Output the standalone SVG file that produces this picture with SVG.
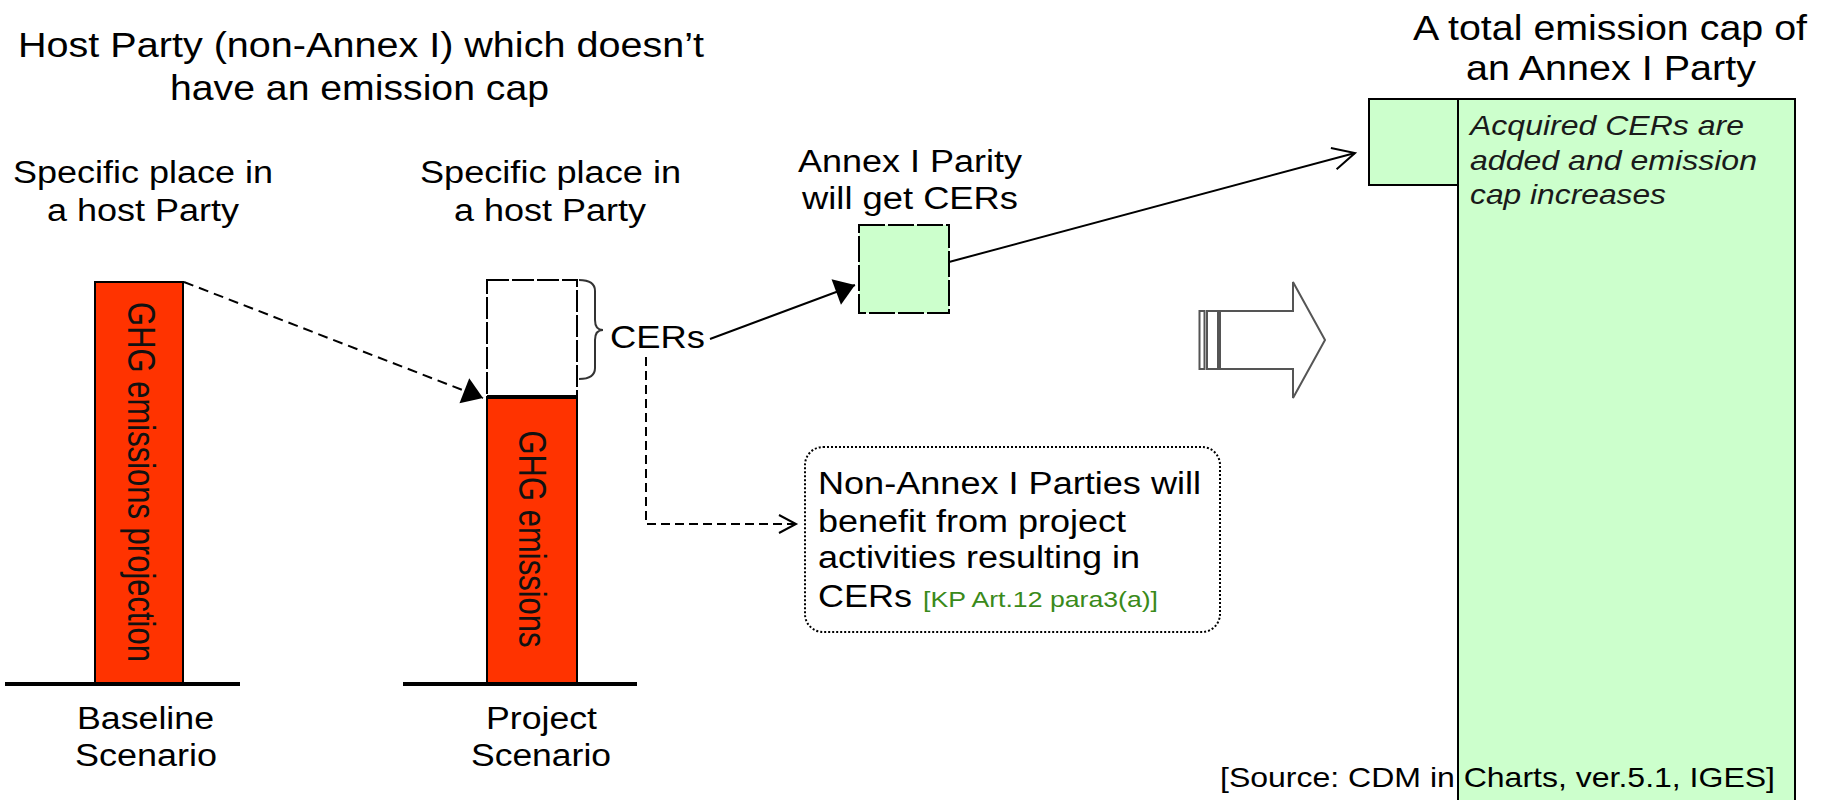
<svg xmlns="http://www.w3.org/2000/svg" width="1833" height="800" viewBox="0 0 1833 800">
<style>
text{font-family:"Liberation Sans",Arial,sans-serif;fill:#000}
.t34{font-size:35px}
.t30{font-size:31px}
.t28{font-size:28px}
.it{font-size:28px;font-style:italic;fill:#1a1a1a}
.grn{font-size:22px;fill:#3a8a1a}
.red{fill:#FF3300;stroke:#000;stroke-width:2}
.gbox{fill:#CCFFCC;stroke:#000;stroke-width:2}
.ground{stroke:#000;stroke-width:4}
.conn{fill:none;stroke:#000;stroke-width:2}
</style>
<defs>
<marker id="tri" markerUnits="userSpaceOnUse" markerWidth="26" markerHeight="32" viewBox="-23 -16 26 32" refX="0" refY="0" orient="auto">
<path d="M0,0 L-20,-13.5 L-20,13.5 Z" fill="#000"/>
</marker>
<marker id="open" markerUnits="userSpaceOnUse" markerWidth="30" markerHeight="30" viewBox="-26 -15 30 30" refX="0" refY="0" orient="auto">
<path d="M-22,-11 L0,0 L-22,11" fill="none" stroke="#000" stroke-width="2"/>
</marker>
<marker id="open2" markerUnits="userSpaceOnUse" markerWidth="24" markerHeight="24" viewBox="-21 -12 24 24" refX="0" refY="0" orient="auto">
<path d="M-17,-9 L0,0 L-17,9" fill="none" stroke="#000" stroke-width="2"/>
</marker>
</defs>

<g id="title-host">
<text class="t34" x="18" y="57" textLength="686" lengthAdjust="spacingAndGlyphs">Host Party (non-Annex I) which doesn’t</text>
<text class="t34" x="170" y="100" textLength="379" lengthAdjust="spacingAndGlyphs">have an emission cap</text>
</g>

<g id="title-annex">
<text class="t34" x="1413" y="40" textLength="394" lengthAdjust="spacingAndGlyphs">A total emission cap of</text>
<text class="t34" x="1466" y="80" textLength="290" lengthAdjust="spacingAndGlyphs">an Annex I Party</text>
</g>

<g id="baseline-scenario">
<text class="t30" x="13" y="183" textLength="260" lengthAdjust="spacingAndGlyphs">Specific place in</text>
<text class="t30" x="47" y="221" textLength="192" lengthAdjust="spacingAndGlyphs">a host Party</text>
<rect class="red" x="95" y="282" width="88" height="401"/>
<g transform="translate(142,482) scale(1.25,1) rotate(90)"><text x="0" y="11" style="font-size:31px;fill:#111" text-anchor="middle">GHG emissions projection</text></g>
<line class="ground" x1="5" y1="684" x2="240" y2="684"/>
<text class="t30" x="77" y="729" textLength="137" lengthAdjust="spacingAndGlyphs">Baseline</text>
<text class="t30" x="75" y="766" textLength="142" lengthAdjust="spacingAndGlyphs">Scenario</text>
</g>

<g id="project-scenario">
<text class="t30" x="420" y="183" textLength="261" lengthAdjust="spacingAndGlyphs">Specific place in</text>
<text class="t30" x="454" y="221" textLength="192" lengthAdjust="spacingAndGlyphs">a host Party</text>
<rect x="487" y="280" width="90" height="117" fill="#fff" stroke="#000" stroke-width="2" stroke-dasharray="22 3"/>
<rect class="red" x="487" y="397" width="90" height="286"/>
<line x1="487" y1="397" x2="577" y2="397" stroke="#000" stroke-width="4"/>
<g transform="translate(533,539) scale(1.25,1) rotate(90)"><text x="0" y="11" style="font-size:31px;fill:#111" text-anchor="middle">GHG emissions</text></g>
<line class="ground" x1="403" y1="684" x2="637" y2="684"/>
<text class="t30" x="486" y="729" textLength="111" lengthAdjust="spacingAndGlyphs">Project</text>
<text class="t30" x="471" y="766" textLength="140" lengthAdjust="spacingAndGlyphs">Scenario</text>
</g>

<g id="cers-brace">
<path d="M579,280 Q595,280 595,291 L595,320 Q595,330 603,330 Q595,330 595,340 L595,368 Q595,379 579,379" fill="none" stroke="#333" stroke-width="2"/>
<text style="font-size:32px" x="610" y="348" textLength="95" lengthAdjust="spacingAndGlyphs">CERs</text>
</g>

<g id="annex-parity">
<text class="t30" x="798" y="172" textLength="224" lengthAdjust="spacingAndGlyphs">Annex I Parity</text>
<text class="t30" x="802" y="209" textLength="216" lengthAdjust="spacingAndGlyphs">will get CERs</text>
<rect x="859" y="225" width="90" height="88" fill="#CCFFCC" stroke="#000" stroke-width="2" stroke-dasharray="26 3"/>
</g>

<g id="benefit-note">
<rect x="805" y="447" width="415" height="185" rx="18" ry="18" fill="#fff" stroke="#000" stroke-width="2" stroke-dasharray="2 2"/>
<text class="t30" x="818" y="494" textLength="383" lengthAdjust="spacingAndGlyphs">Non-Annex I Parties will</text>
<text class="t30" x="818" y="532" textLength="308" lengthAdjust="spacingAndGlyphs">benefit from project</text>
<text class="t30" x="818" y="568" textLength="322" lengthAdjust="spacingAndGlyphs">activities resulting in</text>
<text class="t30" x="818" y="607" textLength="94" lengthAdjust="spacingAndGlyphs">CERs</text>
<text class="grn" x="923" y="607" textLength="235" lengthAdjust="spacingAndGlyphs">[KP Art.12 para3(a)]</text>
</g>

<g id="block-arrow" fill="#fff" stroke="#555" stroke-width="2">
<rect x="1199.5" y="311" width="5" height="58"/>
<rect x="1207" y="311" width="11" height="58"/>
<polygon points="1220,311 1293,311 1293,282 1325,340 1293,398 1293,369 1220,369"/>
</g>

<g id="emission-cap">
<rect class="gbox" x="1369" y="99" width="89" height="86"/>
<rect class="gbox" x="1458" y="99" width="337" height="720"/>
<text class="it" x="1470" y="135" textLength="274" lengthAdjust="spacingAndGlyphs">Acquired CERs are</text>
<text class="it" x="1470" y="170" textLength="287" lengthAdjust="spacingAndGlyphs">added and emission</text>
<text class="it" x="1470" y="204" textLength="196" lengthAdjust="spacingAndGlyphs">cap increases</text>
</g>

<g id="connectors">
<line class="conn" x1="184" y1="282" x2="483" y2="398" stroke-dasharray="10 6" marker-end="url(#tri)"/>
<line class="conn" x1="710" y1="339" x2="855" y2="285" marker-end="url(#tri)"/>
<line class="conn" x1="949" y1="262" x2="1355" y2="153" marker-end="url(#open)"/>
<polyline class="conn" points="646,357 646,524 796,524" stroke-dasharray="9 5" marker-end="url(#open2)"/>
</g>

<g id="source">
<text class="t28" x="1220" y="787" textLength="555" lengthAdjust="spacingAndGlyphs">[Source: CDM in Charts, ver.5.1, IGES]</text>
</g>
</svg>
